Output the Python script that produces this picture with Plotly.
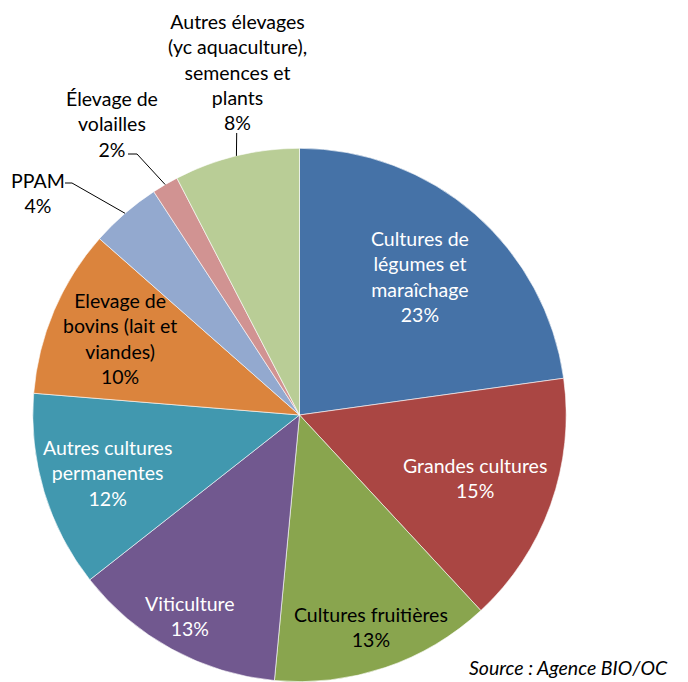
import math
import plotly.graph_objects as go

# ---- data ----
categories = [
    "Cultures de<br>légumes et<br>maraîchage",
    "Grandes cultures",
    "Cultures fruitières",
    "Viticulture",
    "Autres cultures<br>permanentes",
    "Elevage de<br>bovins (lait et<br>viandes)",
    "PPAM",
    "Élevage de<br>volailles",
    "Autres élevages<br>(yc aquaculture),<br>semences et<br>plants",
]
values = [22.8, 15.3, 13.4, 12.9, 11.9, 10.2, 4.3, 1.6, 7.6]
source_text = "Source : Agence BIO/OC"

# ---- style / layout ----
colors = ["#4572A7", "#AA4643", "#89A54E", "#71588F", "#4198AF",
          "#DB843D", "#93A9CF", "#D19392", "#B9CD96"]
text_colors = ["white", "white", "black", "white", "white", "black",
               "black", "black", "black"]
# inside labels: radial fraction of label centre (None -> outside label)
label_frac = [0.69, 0.70, 0.84, 0.86, 0.75, 0.73, None, None, None]
# outside labels: label centre (px) and leader-line path near the label (px)
outside_label_pos = {6: (38, 193), 7: (112, 124), 8: (237, 71.5)}
outside_leader = {6: [(65, 183), (72, 183)],
                  7: [(128, 154), (137, 154)],
                  8: [(236.7, 133)]}

W, H = 688, 682
OFF = 8  # page body margin offset (px)
CX, CY, R = 299.5, 415.0, 266.7
FONT = "Lato, 'Open Sans', sans-serif"
FS = 19.5


def px(x):
    return (x - OFF) / W


def py(y):
    return 1 - (y - OFF) / H


total = sum(values)
fig = go.Figure(go.Pie(
    labels=[c.replace("<br>", " ") for c in categories],
    values=values,
    sort=False,
    direction="clockwise",
    rotation=0,
    marker=dict(colors=colors, line=dict(color="white", width=0.6)),
    textinfo="none",
    hoverinfo="label+percent",
    showlegend=False,
    domain=dict(x=[px(CX - R), px(CX + R)], y=[max(0, py(CY + R)), py(CY - R)]),
))

annotations = []
shapes = []
cum = 0.0
for i, v in enumerate(values):
    mid = (cum + v / 2) / total * 2 * math.pi
    cum += v
    pct = f"{round(v / total * 100):d}%"
    txt = f"{categories[i]}<br>{pct}"
    if label_frac[i] is not None:
        f = label_frac[i]
        lx = CX + f * R * math.sin(mid)
        ly = CY - f * R * math.cos(mid)
    else:
        lx, ly = outside_label_pos[i]
        ex = CX + R * math.sin(mid)
        ey = CY - R * math.cos(mid)
        pts = outside_leader[i] + [(ex, ey)]
        path = "M " + " L ".join(f"{px(a):.5f},{py(b):.5f}" for a, b in pts)
        shapes.append(dict(type="path", path=path, xref="paper", yref="paper",
                           line=dict(color="black", width=1)))
    annotations.append(dict(x=px(lx), y=py(ly), xref="paper", yref="paper",
                            text=txt, showarrow=False, align="center",
                            xanchor="center", yanchor="middle",
                            font=dict(family=FONT, size=FS, color=text_colors[i])))

annotations.append(dict(x=px(670), y=py(667), xref="paper", yref="paper",
                        text=f"<i>{source_text}</i>", showarrow=False,
                        xanchor="right", yanchor="middle",
                        font=dict(family=FONT, size=FS, color="black")))

fig.update_layout(
    width=W, height=H, autosize=False,
    margin=dict(l=0, r=0, t=0, b=0),
    paper_bgcolor="white", plot_bgcolor="white",
    annotations=annotations, shapes=shapes,
)
fig.write_html("out.html")
